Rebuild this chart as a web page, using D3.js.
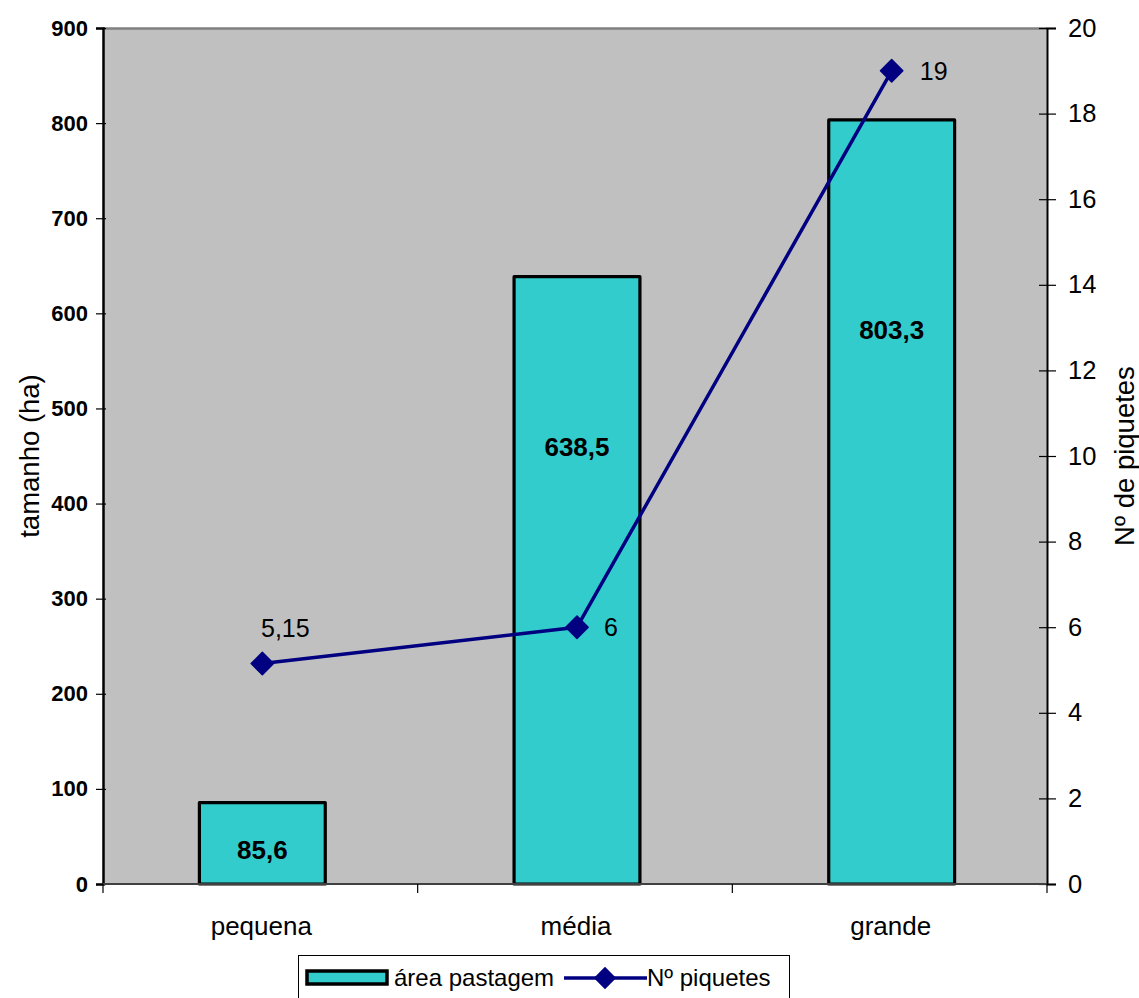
<!DOCTYPE html>
<html>
<head>
<meta charset="utf-8">
<script src="https://cdn.jsdelivr.net/npm/d3@7"></script>
<style>
  html, body { margin: 0; padding: 0; background: #ffffff; }
  svg { display: block; font-family: "Liberation Sans", Arial, sans-serif; }
</style>
</head>
<body>
<svg id="chart" width="1139" height="998"></svg>
<script>
// Pasture size per farm class and number of paddocks
const categories = ["pequena", "média", "grande"];
const areaPastagem = [85.6, 638.5, 803.3];
const numPiquetes = [5.15, 6, 19];
const areaLabels = ["85,6", "638,5", "803,3"];
const piqueteLabels = ["5,15", "6", "19"];
const leftTicks = [0, 100, 200, 300, 400, 500, 600, 700, 800, 900];
const rightTicks = [0, 2, 4, 6, 8, 10, 12, 14, 16, 18, 20];

// Layout
const plot = { left: 103, right: 1047, top: 28, bottom: 884 };
const barLabelFrac = [0.42, 0.72, 0.725];      // height fraction where each bar's value sits
const colors = { bg: "#c0c0c0", bar: "#33cccc", line: "#000080" };

const svg = d3.select("#chart");

const x = d3.scaleBand().domain(categories).range([plot.left, plot.right]).paddingInner(0).paddingOuter(0);
const yL = d3.scaleLinear().domain([0, 900]).range([plot.bottom, plot.top]);
const yR = d3.scaleLinear().domain([0, 20]).range([plot.bottom, plot.top]);

// Plot area background
svg.append("rect")
  .attr("x", plot.left).attr("y", plot.top)
  .attr("width", plot.right - plot.left).attr("height", plot.bottom - plot.top)
  .attr("fill", colors.bg);
svg.append("line")
  .attr("x1", plot.left).attr("x2", plot.right)
  .attr("y1", plot.top + 0.5).attr("y2", plot.top + 0.5)
  .attr("stroke", "#808080").attr("stroke-width", 2.5);

// Bars
const barW = x.bandwidth() * 0.4;
svg.append("g").selectAll("rect").data(areaPastagem).join("rect")
  .attr("x", (d, i) => x(categories[i]) + x.bandwidth() / 2 - barW / 2 + 2)
  .attr("y", d => yL(d))
  .attr("width", barW)
  .attr("height", d => yL(0) - yL(d))
  .attr("fill", colors.bar)
  .attr("stroke", "#000").attr("stroke-width", 3.2)
  .attr("stroke-linejoin", "round");

// Bar value labels
svg.append("g").selectAll("text").data(areaPastagem).join("text")
  .attr("x", (d, i) => x(categories[i]) + x.bandwidth() / 2 + 2)
  .attr("y", (d, i) => yL(d * barLabelFrac[i]))
  .attr("dy", "0.35em")
  .attr("text-anchor", "middle")
  .attr("font-size", 26).attr("font-weight", "bold").attr("fill", "#000")
  .text((d, i) => areaLabels[i]);

// Left axis
const axL = svg.append("g").attr("transform", `translate(${plot.left},0)`)
  .call(d3.axisLeft(yL).tickValues(leftTicks).tickSize(7).tickPadding(8).tickFormat(d3.format("d")));
axL.select(".domain").attr("stroke", "#000").attr("stroke-width", 2.5);
axL.selectAll(".tick line").attr("stroke", "#000").attr("stroke-width", 1.2).attr("x2", -7).attr("x1", 3);
axL.selectAll(".tick text").attr("font-size", 22).attr("font-weight", "bold")
  .attr("font-family", "'Liberation Sans', Arial, sans-serif").attr("fill", "#000");

// Right axis
const axR = svg.append("g").attr("transform", `translate(${plot.right},0)`)
  .call(d3.axisRight(yR).tickValues(rightTicks).tickSize(9).tickPadding(12).tickFormat(d3.format("d")));
axR.select(".domain").attr("stroke", "#000").attr("stroke-width", 2);
axR.selectAll(".tick line").attr("stroke", "#000").attr("stroke-width", 1.2).attr("x1", -8).attr("x2", 9);
axR.selectAll(".tick text").attr("font-size", 25.5).attr("font-weight", "normal")
  .attr("font-family", "'Liberation Sans', Arial, sans-serif").attr("fill", "#000");

// Bottom axis: ticks on band boundaries
const bottomG = svg.append("g");
bottomG.append("line")
  .attr("x1", plot.left).attr("x2", plot.right)
  .attr("y1", plot.bottom).attr("y2", plot.bottom)
  .attr("stroke", "#404040").attr("stroke-width", 2);
const boundaries = categories.map(c => x(c)).concat([x(categories[categories.length - 1]) + x.bandwidth()]);
bottomG.selectAll("line.tk").data(boundaries).join("line")
  .attr("class", "tk")
  .attr("x1", d => d).attr("x2", d => d)
  .attr("y1", plot.bottom).attr("y2", plot.bottom + 9)
  .attr("stroke", "#000").attr("stroke-width", 1.2);
bottomG.selectAll("text").data(categories).join("text")
  .attr("x", d => x(d) + x.bandwidth() / 2 + 1)
  .attr("y", 935)
  .attr("text-anchor", "middle")
  .attr("font-size", 26).attr("fill", "#000")
  .text(d => d);

// Axis titles
svg.append("text")
  .attr("transform", `translate(39,${(plot.top + plot.bottom) / 2}) rotate(-90)`)
  .attr("text-anchor", "middle")
  .attr("font-size", 27.5).attr("fill", "#000")
  .text("tamanho (ha)");
svg.append("text")
  .attr("transform", `translate(1134,${(plot.top + plot.bottom) / 2}) rotate(-90)`)
  .attr("text-anchor", "middle")
  .attr("font-size", 27.5).attr("fill", "#000")
  .text("Nº de piquetes");

// Paddock line
const cx = (d, i) => x(categories[i]) + x.bandwidth() / 2 + 2;
const line = d3.line().x(cx).y(d => yR(d));
svg.append("path")
  .datum(numPiquetes)
  .attr("d", line)
  .attr("fill", "none").attr("stroke", colors.line).attr("stroke-width", 3.5)
  .attr("stroke-linejoin", "round");

const diamond = d3.symbol().type(d3.symbolSquare).size(250);
svg.append("g").selectAll("path").data(numPiquetes).join("path")
  .attr("transform", (d, i) => `translate(${cx(d, i)},${yR(d)}) rotate(45)`)
  .attr("d", diamond)
  .attr("fill", colors.line)
  .attr("stroke", colors.line).attr("stroke-width", 1.5).attr("stroke-linejoin", "round");

// Paddock value labels
const lblOffset = [[23, -35], [34, 0], [42, 0]];
svg.append("g").selectAll("text").data(numPiquetes).join("text")
  .attr("x", (d, i) => cx(d, i) + lblOffset[i][0])
  .attr("y", (d, i) => yR(d) + lblOffset[i][1])
  .attr("dy", "0.35em")
  .attr("text-anchor", "middle")
  .attr("font-size", 25).attr("fill", "#000")
  .text((d, i) => piqueteLabels[i]);

// Legend
const lg = svg.append("g");
lg.append("rect")
  .attr("x", 298.5).attr("y", 955.5).attr("width", 491).attr("height", 60)
  .attr("fill", "#fff").attr("stroke", "#000").attr("stroke-width", 1);
lg.append("rect")
  .attr("x", 307).attr("y", 971).attr("width", 80).attr("height", 13)
  .attr("fill", colors.bar).attr("stroke", "#000").attr("stroke-width", 3.5);
lg.append("text")
  .attr("x", 394).attr("y", 986)
  .attr("font-size", 24).attr("fill", "#000")
  .text("área pastagem");
lg.append("line")
  .attr("x1", 564).attr("x2", 647).attr("y1", 978).attr("y2", 978)
  .attr("stroke", colors.line).attr("stroke-width", 3.5);
lg.append("path")
  .attr("transform", "translate(605,978) rotate(45)")
  .attr("d", diamond)
  .attr("fill", colors.line);
lg.append("text")
  .attr("x", 647).attr("y", 986)
  .attr("font-size", 24).attr("fill", "#000")
  .text("Nº piquetes");
</script>
</body>
</html>
